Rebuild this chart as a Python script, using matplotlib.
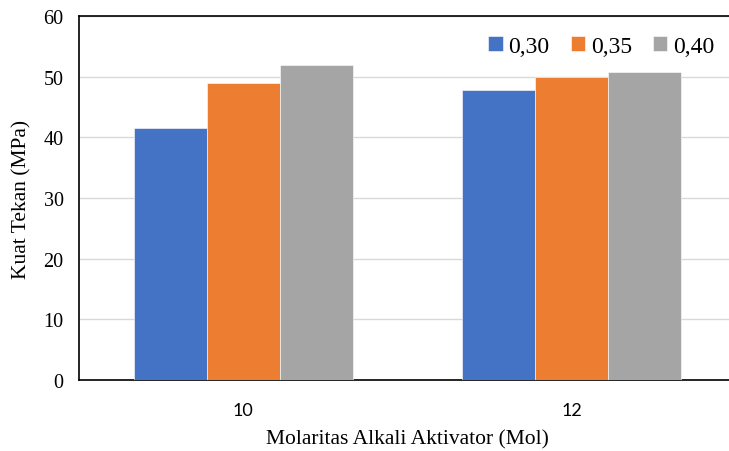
import numpy as np
import matplotlib.pyplot as plt

categories = ['10', '12']
series_labels = ['0,30', '0,35', '0,40']
val_030 = [41.6, 47.8]
val_035 = [48.9, 49.9]
val_040 = [51.9, 50.8]
colors = ['#4472C4', '#ED7D31', '#A5A5A5']

fig = plt.figure(figsize=(7.29, 4.52), dpi=100)
ax = fig.add_axes([79 / 729, 1 - 381 / 452, (736 - 79) / 729, (381 - 17) / 452])

x = np.arange(len(categories))
w = 0.222
for i, (vals, lab, c) in enumerate(zip([val_030, val_035, val_040], series_labels, colors)):
    ax.bar(x + (i - 1) * w, vals, width=w, color=c, label=lab, zorder=3,
           edgecolor='white', linewidth=0.4)

ax.set_xlim(-0.5, 1.5)
ax.set_ylim(0, 60)
ax.set_yticks(range(0, 61, 10))
ax.set_xticks(x)
ax.set_xticklabels(categories, family='Lato', fontsize=13)
ax.tick_params(axis='x', length=0, pad=16)
ax.tick_params(axis='y', length=0, pad=11, labelsize=14.5)
for t in ax.get_yticklabels():
    t.set_family('Liberation Serif')
ax.grid(axis='y', color='#D9D9D9', linewidth=1, zorder=0)

for s in ['left', 'bottom', 'top']:
    ax.spines[s].set_color('black')
    ax.spines[s].set_linewidth(1.2)
ax.spines['right'].set_visible(False)

ax.set_ylabel('Kuat Tekan (MPa)', family='Liberation Serif', fontsize=15.5, labelpad=9)
ax.set_xlabel('Molaritas Alkali Aktivator (Mol)', family='Liberation Serif', fontsize=15.5, labelpad=8)

ax.legend(loc='upper right', bbox_to_anchor=((724 - 79) / (736 - 79), 0.972), ncol=3,
          frameon=False, prop={'family': 'Liberation Serif', 'size': 17},
          handlelength=0.6, handleheight=0.6, handletextpad=0.25, columnspacing=0.9,
          borderaxespad=0)

fig.savefig('out.png', dpi=100)
